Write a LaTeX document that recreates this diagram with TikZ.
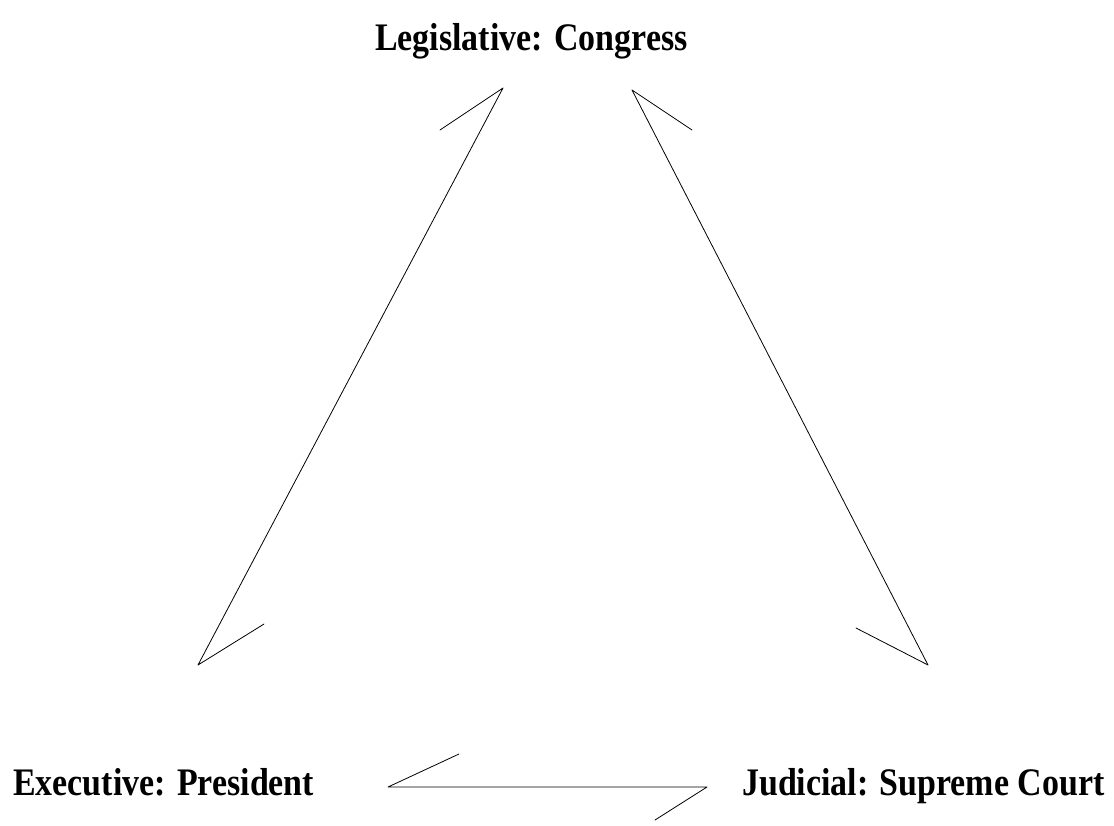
\documentclass[tikz,border=0pt]{standalone}
\usepackage{fontspec}
\newfontfamily\labfont[FakeStretch=0.87]{Liberation Serif}
\begin{document}
\begin{tikzpicture}[x=1pt,y=-1pt,
  lab/.style={font=\labfont\bfseries\fontsize{39}{44}\selectfont, inner sep=0pt, anchor=base west},
  ln/.style={line width=0.8pt, line cap=round, line join=round}]
\useasboundingbox (0,0) rectangle (1114,825);
\node[lab] (leg) at (375,50) {Legislative: Congress};
\node[lab] (exe) at (13,795) {Executive: President};
\node[lab] (jud) at (742,795) {Judicial: Supreme Court};
% left connector
\coordinate (lt) at (503,88);
\coordinate (lb) at (198,665);
\coordinate (ltb) at (440,130);
\coordinate (lbb) at (264,624);
\draw[ln] (ltb) -- (lt) -- (lb) -- (lbb);
% right connector
\coordinate (rt) at (632,90);
\coordinate (rb) at (928,665);
\coordinate (rtb) at (692,130);
\coordinate (rbb) at (856,628);
\draw[ln] (rtb) -- (rt) -- (rb) -- (rbb);
% bottom connector
\coordinate (bl) at (388,787);
\coordinate (br) at (707,787);
\coordinate (blb) at (459,754);
\coordinate (brb) at (655,820);
\draw[ln] (blb) -- (bl) -- (br) -- (brb);
\end{tikzpicture}
\end{document}
